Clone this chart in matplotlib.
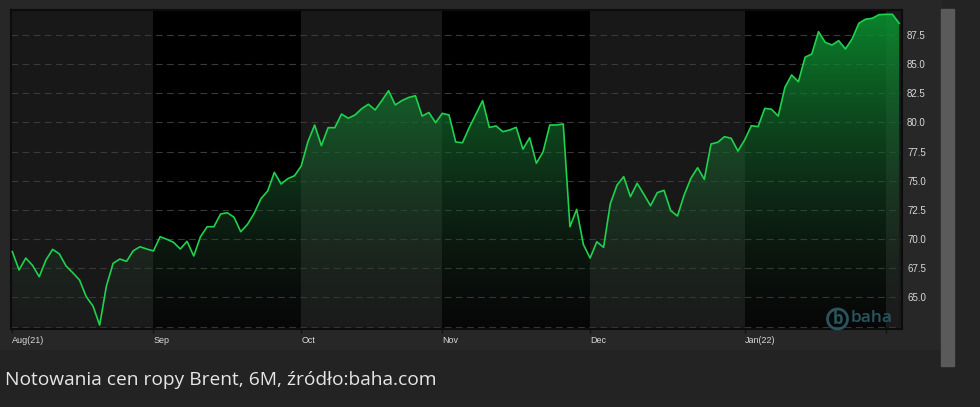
import matplotlib
matplotlib.use("Agg")
import matplotlib.pyplot as plt
import numpy as np
from matplotlib.patches import Rectangle, Circle, Polygon

# Brent closing prices, one value per trading day (Aug 2021 - Jan 2022)
prices = [
    68.92, 67.35, 68.37, 67.75, 66.77, 68.20, 69.12, 68.72, 67.69, 67.11,
    66.49, 65.06, 64.26, 62.63, 65.97, 67.92, 68.29, 68.09, 69.00, 69.34,
    69.15, 68.98, 70.20, 69.98, 69.72, 69.15, 69.81, 68.55, 70.20, 71.06,
    71.06, 72.15, 72.26, 71.87, 70.63, 71.26, 72.21, 73.46, 74.12, 75.72,
    74.72, 75.18, 75.43, 76.26, 78.35, 79.78, 78.01, 79.55, 79.55, 80.72,
    80.36, 80.64, 81.18, 81.56, 81.07, 81.87, 82.72, 81.50, 81.88, 82.14,
    82.29, 80.55, 80.85, 79.98, 80.78, 80.64, 78.32, 78.26, 79.55, 80.72,
    81.87, 79.57, 79.70, 79.21, 79.35, 79.58, 77.71, 78.69, 76.50, 77.49,
    79.78, 79.78, 79.87, 71.06, 72.55, 69.53, 68.37, 69.77, 69.29, 73.01,
    74.62, 75.35, 73.63, 74.78, 73.84, 72.86, 73.98, 74.18, 72.43, 71.98,
    73.78, 75.21, 76.12, 75.12, 78.15, 78.30, 78.78, 78.64, 77.55, 78.49,
    79.72, 79.64, 81.21, 81.13, 80.55, 83.01, 84.07, 83.49, 85.59, 85.87,
    87.78, 86.87, 86.64, 87.01, 86.30, 87.16, 88.50, 88.85, 88.93, 89.24,
    89.27, 89.27, 88.50,
]
month_idx = [0, 21, 43, 64, 86, 109, 130]
month_labels = ["Aug(21)", "Sep", "Oct", "Nov", "Dec", "Jan(22)", ""]
yticks = [65.0, 67.5, 70.0, 72.5, 75.0, 77.5, 80.0, 82.5, 85.0, 87.5]

x = np.arange(len(prices))
y = np.array(prices)
xmin, xmax = -0.2, 132.35
ymin, ymax = 62.29, 89.64

fig = plt.figure(figsize=(9.8, 4.07), dpi=100, facecolor="#232323")
# chart panel + scrollbar
fig.patches.append(Rectangle((0, 1 - 349/407), 941/980, 349/407, transform=fig.transFigure,
                             color="#272727", zorder=-2))
fig.patches.append(Rectangle((941/980, 1 - 366/407), 13/980, 357/407, transform=fig.transFigure,
                             color="#5a5a5a", zorder=-2))

ax = fig.add_axes([11/980, 78/407, 890.5/980, 319/407])
ax.set_facecolor("#000000")
ax.set_xlim(xmin, xmax)
ax.set_ylim(ymin, ymax)

# alternating month bands
edges = month_idx[1:]
bounds = [xmin] + edges + [xmax]
for i in range(len(bounds) - 1):
    if i % 2 == 0:
        ax.axvspan(bounds[i], bounds[i + 1], color="#181818", zorder=0, lw=0)

# grid
for g in [62.5] + yticks:
    ax.axhline(g, color="#3a3a3a", lw=0.8, dashes=(6, 4), zorder=1)

# gradient fill under the line: grey-ish and faint at the bottom, green at the top
t = np.linspace(0, 1, 256).reshape(-1, 1)
bottom_rgb = np.array([40, 40, 40]) / 255
top_rgb = np.array([10, 150, 50]) / 255
img = np.zeros((256, 1, 4))
for c in range(3):
    img[..., c] = bottom_rgb[c] + (top_rgb[c] - bottom_rgb[c]) * t
img[..., 3] = 0.17 + 0.73 * t
im = ax.imshow(img, extent=[xmin, xmax, ymin, ymax], origin="lower", aspect="auto", zorder=2)
poly = Polygon(np.column_stack([np.r_[x[0], x, x[-1]], np.r_[ymin, y, ymin]]),
               closed=True, facecolor="none", edgecolor="none")
ax.add_patch(poly)
im.set_clip_path(poly)

ax.plot(x, y, color="#1ed24e", lw=1.2, zorder=3)

# axes styling
for s in ax.spines.values():
    s.set_color("#0c0c0c")
    s.set_linewidth(1.5)
ax.yaxis.tick_right()
ax.set_yticks(yticks)
ax.set_yticklabels(["%.1f" % v for v in yticks], fontsize=7, color="#d8d8d8",
                   family="Liberation Sans")
ax.tick_params(axis="y", length=0, pad=4)
ax.set_xticks(month_idx)
ax.set_xticklabels(month_labels, fontsize=6.5, color="#d8d8d8", family="Liberation Sans",
                   ha="left")
ax.tick_params(axis="x", length=3, color="#111111", pad=2)

# baha watermark
wm = "#28555e"
fig.patches.append(Circle((8.375, (407 - 319) / 100), 0.10, transform=fig.dpi_scale_trans,
                          fill=False, edgecolor=wm, lw=2, zorder=5))
fig.text(837.5/980, 1 - 319/407, "b", color=wm, fontsize=12, fontweight="bold",
         ha="center", va="center", family="Open Sans", zorder=6)
fig.text(851/980, 1 - 318/407, "baha", color=wm, fontsize=12.5, fontweight="semibold",
         ha="left", va="center", family="Open Sans", zorder=6)

fig.text(5/980, 1 - 380/407, "Notowania cen ropy Brent, 6M, źródło:baha.com",
         color="#e6e6e6", fontsize=13.8, family="Open Sans", ha="left", va="center")

fig.savefig("out.png", dpi=100, facecolor=fig.get_facecolor())
